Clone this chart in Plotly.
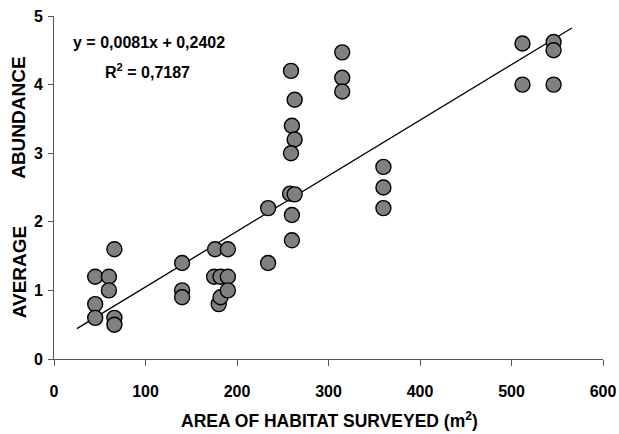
import plotly.graph_objects as go

# Data
area = [45, 45, 45, 60, 60, 66, 66, 66,
        140, 140, 140,
        176, 190, 175, 182, 190, 180, 182, 190,
        234, 234,
        260, 260, 259, 263, 260, 263, 259, 258, 263,
        315, 315, 315,
        360, 360, 360,
        512, 512, 546, 546, 546]
abundance = [1.2, 0.8, 0.6, 1.2, 1.0, 1.6, 0.6, 0.5,
             1.4, 1.0, 0.9,
             1.6, 1.6, 1.2, 1.2, 1.2, 0.8, 0.9, 1.0,
             2.2, 1.4,
             2.1, 1.73, 4.2, 3.78, 3.4, 3.2, 3.0, 2.41, 2.4,
             4.47, 4.1, 3.9,
             2.8, 2.5, 2.2,
             4.6, 4.0, 4.62, 4.5, 4.0]

slope = 0.0081
intercept = 0.2402
trend_x = [25, 566]
trend_y = [slope * v + intercept for v in trend_x]

x_ticks = [0, 100, 200, 300, 400, 500, 600]
y_ticks = [0, 1, 2, 3, 4, 5]

FONT = "Liberation Sans, Arial, sans-serif"

# Figure laid out in window pixels (page body margin removed below)
W, H = 619, 434
L, R, T, B = 54, 603.5, 15.7, 358.7
PW, PH = R - L, B - T


def px(xp):
    return (xp - L) / PW


def py(yp):
    return (B - yp) / PH


fig = go.Figure()
fig.add_trace(go.Scatter(
    x=trend_x, y=trend_y, mode="lines",
    line=dict(color="black", width=1.3), showlegend=False, hoverinfo="skip"))
fig.add_trace(go.Scatter(
    x=area, y=abundance, mode="markers",
    marker=dict(size=15, color="#808080", line=dict(color="black", width=1.4)),
    showlegend=False))

axis_common = dict(ticks="outside", tickwidth=1, tickcolor="#555",
                   showline=True, linecolor="#555", linewidth=1,
                   showgrid=False, zeroline=False, automargin=False,
                   ticklabeloverflow="allow",
                   tickfont=dict(family=FONT, size=16, color="black", weight="bold"))

fig.update_layout(
    width=W, height=H,
    margin=dict(l=L, r=W - R, t=T, b=H - B, pad=0),
    paper_bgcolor="white", plot_bgcolor="white",
    font=dict(family=FONT, size=14, color="black"),
    xaxis=dict(range=[0, 600], tickvals=x_ticks, ticklen=6,
               ticklabelstandoff=12, **axis_common),
    yaxis=dict(range=[0, 5], tickvals=y_ticks, ticklen=5,
               ticklabelstandoff=2, **axis_common),
    annotations=[
        dict(text="<b>y = 0,0081x + 0,2402</b>", xref="paper", yref="paper",
             x=px(149), y=py(42), xanchor="center", yanchor="middle",
             showarrow=False, font=dict(family=FONT, size=16, color="black")),
        dict(text="<b>R<sup>2</sup> = 0,7187</b>", xref="paper", yref="paper",
             x=px(148), y=py(71), xanchor="center", yanchor="middle",
             showarrow=False, font=dict(family=FONT, size=16, color="black")),
        dict(text="<b>ABUNDANCE</b>", xref="paper", yref="paper",
             x=px(19), y=py(117.5), xanchor="center", yanchor="middle",
             showarrow=False, textangle=-90,
             font=dict(family=FONT, size=19, color="black")),
        dict(text="<b>AVERAGE</b>", xref="paper", yref="paper",
             x=px(19), y=py(272), xanchor="center", yanchor="middle",
             showarrow=False, textangle=-90,
             font=dict(family=FONT, size=19, color="black")),
        dict(text="<b>AREA OF HABITAT SURVEYED (m<sup>2</sup>)</b>", xref="paper",
             yref="paper", x=px(330), y=py(420), xanchor="center", yanchor="middle",
             showarrow=False,
             font=dict(family=FONT, size=17.5, color="black")),
    ],
)

fig.write_html(
    "out.html",
    config={"displayModeBar": False},
    post_script="document.body.style.margin='0';document.body.style.overflow='hidden';",
)
